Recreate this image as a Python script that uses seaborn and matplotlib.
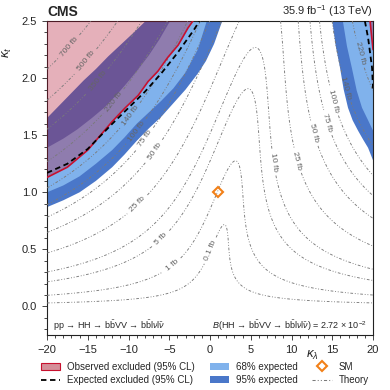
import numpy as np
import matplotlib
matplotlib.use('Agg')
import matplotlib.pyplot as plt
import seaborn as sns
from matplotlib.patches import Patch
from matplotlib.lines import Line2D
from matplotlib.ticker import MultipleLocator

sns.set_style('ticks')
plt.rcParams['font.family'] = ['Liberation Sans', 'DejaVu Sans']
plt.rcParams['mathtext.fontset'] = 'custom'
plt.rcParams['mathtext.rm'] = 'Liberation Sans'
plt.rcParams['mathtext.it'] = 'Liberation Sans:italic'
plt.rcParams['mathtext.bf'] = 'Liberation Sans:bold'

# theory: sigma(HH)/sigma_SM = A1 kt^4 + A3 kt^2 kl^2 + A7 kl kt^3, times BR
A1, A3, A7 = 2.09, 0.28, -1.37
sigma_sm_fb = 33.49
br_bbvv = 2.72e-2
theory_levels = [0.1, 1, 5, 10, 25, 50, 75, 100, 140, 220, 350, 500, 700]

# exclusion boundaries (left branch, kl < 0)
obs_left_kl = [-20, -17.5, -15, -12, -10.4, -8.8, -7.6, -6.4, -5.2, -3.9, -2.7, -2.1]
obs_left_kt = [1.13, 1.22, 1.37, 1.62, 1.74, 1.85, 1.97, 2.06, 2.18, 2.29, 2.44, 2.5]
exp_left_kl = [-20, -17.5, -15, -12, -10, -8, -6, -4, -2, -1.3]
exp_left_kt = [1.17, 1.25, 1.38, 1.60, 1.74, 1.88, 2.04, 2.22, 2.42, 2.5]
lo68_left_kl = [-20, -18, -16, -14, -12, -10.5, -9, -7.5, -6, -4.5, -3, -1.5, -0.4]
lo68_left_kt = [1.0, 1.06, 1.14, 1.25, 1.37, 1.48, 1.6, 1.70, 1.8, 1.91, 2.05, 2.25, 2.5]
hi68_left_kl = [-20, -18, -16.3, -14.5, -13, -11.5, -10.4, -9, -7.5, -6.2, -4.9]
hi68_left_kt = [1.39, 1.47, 1.55, 1.65, 1.74, 1.85, 1.94, 2.06, 2.2, 2.34, 2.5]
lo95_left_kl = [-20, -18, -16, -14, -12, -10.5, -9, -7.5, -6, -4.5, -3, -1.5, -0.5, 0.5, 1.5]
lo95_left_kt = [0.87, 0.93, 1.0, 1.1, 1.22, 1.33, 1.45, 1.56, 1.66, 1.78, 1.90, 2.04, 2.15, 2.30, 2.5]
hi95_left_kl = [-20, -18.5, -17, -15.5, -14, -12.5, -11, -9.5, -7.9]
hi95_left_kt = [1.65, 1.76, 1.87, 1.98, 2.08, 2.19, 2.29, 2.39, 2.5]

# right branch (kl > 0)
obs_right_kl = [19.63, 20]
obs_right_kt = [2.5, 2.25]
exp_right_kl = [19.0, 19.4, 19.88, 20]
exp_right_kt = [2.5, 2.35, 2.09, 1.91]
lo68_right_kl = [16.3, 16.8, 17.4, 18.0, 18.65, 19.4, 20]
lo68_right_kt = [2.5, 2.28, 2.09, 1.89, 1.74, 1.63, 1.54]
lo95_right_kl = [15.0, 15.4, 15.95, 16.4, 16.93, 17.5, 18.16, 18.8, 19.39, 20]
lo95_right_kt = [2.5, 2.29, 2.09, 1.9, 1.74, 1.63, 1.54, 1.46, 1.39, 1.28]

sm_kl = [1.0]
sm_kt = [1.0]

c68 = '#80b2ec'
c95 = '#4a77c9'
c_obs = '#b01030'
c_red = '#c8102e'
c_sm = '#f28018'
c_th = '#7a7a7a'
th_dash = (0, (3, 2, 1, 2, 1, 2))

fig = plt.figure(figsize=(3.9, 3.9), dpi=100)
ax = fig.add_axes([0.1205, 0.141, 0.836, 0.805])

KL_MIN, KL_MAX, KT_MIN, KT_MAX = -20, 20, -0.25, 2.5

# 95% band
ax.fill(np.r_[lo95_left_kl, hi95_left_kl[::-1]], np.r_[lo95_left_kt, hi95_left_kt[::-1]],
        color=c95, lw=0, zorder=1)
ax.fill(np.r_[lo95_right_kl, KL_MAX], np.r_[lo95_right_kt, KT_MAX], color=c95, lw=0, zorder=1)
# 68% band
ax.fill(np.r_[lo68_left_kl, hi68_left_kl[::-1]], np.r_[lo68_left_kt, hi68_left_kt[::-1]],
        color=c68, lw=0, zorder=2)
ax.fill(np.r_[lo68_right_kl, KL_MAX], np.r_[lo68_right_kt, KT_MAX], color=c68, lw=0, zorder=2)
# observed excluded
ax.fill(np.r_[obs_left_kl, KL_MIN], np.r_[obs_left_kt, KT_MAX], color=c_obs, alpha=0.33, lw=0, zorder=3)
ax.fill(np.r_[obs_right_kl, KL_MAX], np.r_[obs_right_kt, KT_MAX], color=c_obs, alpha=0.33, lw=0, zorder=3)

# theory contours
kl_grid = np.linspace(KL_MIN, KL_MAX, 401)
kt_grid = np.linspace(0, KT_MAX, 276)
KL, KT = np.meshgrid(kl_grid, kt_grid)
xs = sigma_sm_fb * br_bbvv * (A1 * KT**4 + A3 * KT**2 * KL**2 + A7 * KL * KT**3)
cs = ax.contour(KL, KT, xs, levels=theory_levels, colors=c_th, linewidths=0.65,
                linestyles=[th_dash], zorder=4)
label_pos = [(-17.05, 2.26), (-15.2, 2.15), (-13.9, 1.98), (-11.5, 1.78), (-9.9, 1.68),
             (-9.0, 1.53), (-7.7, 1.46), (-6.5, 1.35), (-9.0, 0.9), (-6.1, 0.6),
             (-4.7, 0.36), (0.0, 0.49), (7.7, 1.26), (10.7, 1.28), (12.9, 1.52),
             (14.4, 1.61), (15.1, 1.8), (16.8, 1.92), (18.4, 2.22)]
fmt = {lv: f'{lv:g} fb' for lv in theory_levels}
ax.clabel(cs, theory_levels, manual=label_pos, inline=True, fmt=fmt, fontsize=6, colors='#666666')

# limit lines
sns.lineplot(x=obs_left_kl, y=obs_left_kt, ax=ax, color=c_red, lw=1.2, sort=False, zorder=5)
sns.lineplot(x=obs_right_kl, y=obs_right_kt, ax=ax, color=c_red, lw=1.2, sort=False, zorder=5)
sns.lineplot(x=exp_left_kl, y=exp_left_kt, ax=ax, color='black', lw=1.3, sort=False,
             linestyle=(0, (3, 2)), zorder=5)
sns.lineplot(x=exp_right_kl, y=exp_right_kt, ax=ax, color='black', lw=1.3, sort=False,
             linestyle=(0, (3, 2)), zorder=5)

ax.plot(sm_kl, sm_kt, ls='none', marker='D', mfc='none', mec=c_sm, ms=5, mew=1.5, zorder=6)

ax.set_xlim(KL_MIN, KL_MAX)
ax.set_ylim(KT_MIN, KT_MAX)
ax.xaxis.set_major_locator(MultipleLocator(5))
ax.xaxis.set_minor_locator(MultipleLocator(1))
ax.yaxis.set_major_locator(MultipleLocator(0.5))
ax.yaxis.set_minor_locator(MultipleLocator(0.1))
ax.tick_params(which='both', direction='out', labelsize=8, width=0.6)
ax.tick_params(which='major', length=3.5)
ax.tick_params(which='minor', length=2)
for sp in ax.spines.values():
    sp.set_linewidth(0.8)
    sp.set_color('#222222')

ax.set_xlabel(r'$\kappa_\lambda$', fontsize=9.5)
ax.xaxis.set_label_coords(0.815, -0.045)
ax.set_ylabel(r'$\kappa_t$', fontsize=9.5)
ax.yaxis.set_label_coords(-0.1, 0.9)

ax.text(0, 1.008, 'CMS', transform=ax.transAxes, fontsize=10, fontweight='bold', ha='left', va='bottom')
ax.text(1, 1.008, r'35.9 fb$^{-1}$ (13 TeV)', transform=ax.transAxes, fontsize=8, ha='right', va='bottom')
ax.text(0.018, 0.03, r'pp → HH → b$\bar{\mathrm{b}}$VV → b$\bar{\mathrm{b}}$l$\nu$l$\bar{\nu}$',
        transform=ax.transAxes, fontsize=6.5, ha='left', va='center')
ax.text(0.982, 0.03, r'$\mathit{B}$(HH → b$\bar{\mathrm{b}}$VV → b$\bar{\mathrm{b}}$l$\nu$l$\bar{\nu}$) = 2.72 × 10$^{-2}$',
        transform=ax.transAxes, fontsize=6.5, ha='right', va='center')

handles = [
    Patch(facecolor='#d48f99', edgecolor=c_red, lw=0.8),
    Line2D([], [], color='black', lw=1.3, ls=(0, (3, 2))),
    Patch(facecolor=c68, edgecolor='none'),
    Patch(facecolor=c95, edgecolor='none'),
    Line2D([], [], ls='none', marker='D', mfc='none', mec=c_sm, ms=5, mew=1.5),
    Line2D([], [], color=c_th, lw=0.75, ls=th_dash),
]
labels = ['Observed excluded (95% CL)', 'Expected excluded (95% CL)',
          '68% expected', '95% expected', 'SM', 'Theory']
fig.legend(handles, labels, loc='upper left', bbox_to_anchor=(0.105, 0.073), ncol=3,
           frameon=False, fontsize=7, borderpad=0, borderaxespad=0, labelspacing=0.35,
           handlelength=2.0, handletextpad=0.7, columnspacing=1.5)

fig.savefig('out.png', dpi=100)
